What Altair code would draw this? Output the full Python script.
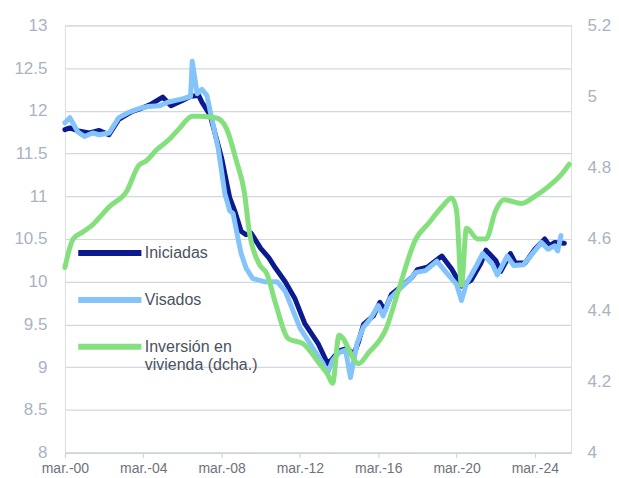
import altair as alt
import pandas as pd

# --- Data ---
ini_dates = ["2000-03","2000-06","2000-12","2001-06","2001-12","2002-06","2002-12","2003-08","2004-02","2004-08",
             "2005-03","2005-08","2006-03","2006-08","2007-01","2007-03","2007-08","2008-03","2008-08","2008-11",
             "2009-03","2009-06","2009-09","2010-03","2010-08","2010-12","2011-06","2011-12","2012-06","2013-02",
             "2013-08","2013-11","2014-03","2014-08","2014-12","2015-03","2015-06","2015-12","2016-04","2016-07",
             "2016-11","2017-08","2017-12","2018-03","2018-09","2019-06","2019-12","2020-03","2020-06","2020-12",
             "2021-06","2021-09","2022-03","2022-06","2022-12","2023-03","2023-09","2024-03","2024-09","2024-12",
             "2025-03","2025-09"]
ini_vals = [11.78,11.80,11.76,11.74,11.77,11.72,11.90,11.99,12.03,12.08,
            12.16,12.06,12.12,12.17,12.18,12.10,11.95,11.45,10.98,10.83,
            10.59,10.55,10.57,10.39,10.28,10.16,10.00,9.80,9.51,9.28,
            9.04,9.10,9.19,9.22,9.15,9.30,9.50,9.60,9.76,9.66,
            9.85,9.99,10.06,10.14,10.17,10.30,10.15,10.05,9.95,10.02,
            10.22,10.37,10.25,10.12,10.33,10.22,10.22,10.38,10.50,10.42,
            10.46,10.45]

vis_dates = ["2000-03","2000-06","2000-11","2001-03","2001-08","2001-12","2002-06","2002-12","2003-06","2004-01",
             "2004-06","2005-01","2005-06","2006-03","2006-08","2006-09","2006-12","2007-03","2007-06","2007-09",
             "2008-01","2008-05","2008-08","2008-10","2009-01","2009-03","2009-06","2009-10","2010-05","2011-01",
             "2011-06","2012-03","2012-12","2013-05","2013-08","2013-11","2014-03","2014-07","2014-10","2015-02",
             "2015-06","2015-10","2016-03","2016-06","2016-10","2017-06","2017-10","2018-02","2018-08","2019-03",
             "2019-09","2020-03","2020-06","2020-09","2021-03","2021-07","2022-01","2022-04","2022-10","2023-02",
             "2023-08","2024-02","2024-07","2024-11","2025-03","2025-05","2025-07"]
vis_vals = [11.86,11.92,11.75,11.70,11.74,11.72,11.74,11.92,11.98,12.03,
            12.05,12.06,12.10,12.14,12.17,12.58,12.20,12.25,12.18,11.91,
            11.55,11.03,10.83,10.80,10.51,10.33,10.16,10.04,10.00,10.00,
            9.89,9.46,9.19,9.05,8.93,9.08,9.17,9.20,8.88,9.28,
            9.47,9.56,9.72,9.60,9.80,9.95,10.02,10.11,10.13,10.24,
            10.10,9.97,9.78,9.98,10.18,10.33,10.20,10.08,10.30,10.19,
            10.20,10.34,10.46,10.38,10.42,10.36,10.54]

inv_dates = ["2000-03","2000-08","2001-02","2001-08","2002-02","2002-06","2003-05","2003-12","2004-05","2004-11",
             "2005-07","2006-01","2006-09","2007-01","2007-12","2008-06","2008-12","2009-05","2009-08","2010-02",
             "2010-07","2010-12","2011-08","2012-05","2013-03","2013-08","2013-11","2014-03","2015-03","2015-09",
             "2016-08","2017-03","2018-02","2018-10","2019-06","2019-12","2020-03","2020-06","2020-09","2021-04",
             "2021-09","2022-03","2022-08","2023-07","2024-03","2024-12","2025-07","2025-12"]
inv_vals = [4.52,4.60,4.62,4.64,4.67,4.69,4.735,4.805,4.82,4.85,
            4.88,4.91,4.945,4.945,4.94,4.91,4.82,4.73,4.62,4.53,
            4.50,4.42,4.32,4.306,4.25,4.22,4.195,4.33,4.25,4.28,
            4.35,4.45,4.60,4.645,4.69,4.715,4.68,4.47,4.63,4.60,
            4.60,4.68,4.71,4.70,4.72,4.75,4.78,4.81]

series_names = ["Iniciadas", "Visados", "Inversión en vivienda (dcha.)"]
series_colors = ["#0b1a8e", "#85c4fb", "#84e07c"]

left_ticks = [8, 8.5, 9, 9.5, 10, 10.5, 11, 11.5, 12, 12.5, 13]
right_ticks = [4, 4.2, 4.4, 4.6, 4.8, 5, 5.2]
x_tick_dates = ["2000-03-01","2004-03-01","2008-03-01","2012-03-01","2016-03-01","2020-03-01","2024-03-01"]

left_df = pd.concat([
    pd.DataFrame({"fecha": pd.to_datetime(ini_dates), "valor": ini_vals, "serie": series_names[0], "orden": 0}),
    pd.DataFrame({"fecha": pd.to_datetime(vis_dates), "valor": vis_vals, "serie": series_names[1], "orden": 1}),
])
right_df = pd.DataFrame({"fecha": pd.to_datetime(inv_dates), "valor": inv_vals, "serie": series_names[2], "orden": 2})

x_domain = [pd.Timestamp("2000-03-01").isoformat(), pd.Timestamp("2026-01-05").isoformat()]

color = alt.Color(
    "serie:N",
    scale=alt.Scale(domain=series_names, range=series_colors),
    legend=alt.Legend(
        title=None,
        orient="none",
        legendX=10,
        legendY=193,
        symbolType="stroke",
        symbolSize=4000,
        symbolStrokeWidth=6,
        rowPadding=-17,
        labelFontSize=16,
        labelFont="Liberation Sans",
        labelColor="#4a5263",
        labelOffset=0,
        labelLimit=300,
        labelBaseline="middle",
        labelExpr="datum.label == 'Inversión en vivienda (dcha.)' ? ['Inversión en', 'vivienda (dcha.)'] : datum.label",
    ),
)

x_enc = alt.X(
    "fecha:T",
    scale=alt.Scale(domain=x_domain),
    axis=alt.Axis(
        values=[pd.Timestamp(d).isoformat() for d in x_tick_dates],
        labelExpr="'mar.-' + timeFormat(datum.value, '%y')",
        title=None,
        grid=False,
        labelFlush=False,
        domainColor="#c9ced6",
        tickColor="#c9ced6",
        tickSize=5,
        labelColor="#6e737c",
        labelFontSize=14,
        labelFont="Liberation Sans",
        labelPadding=4,
    ),
)

left = alt.Chart(left_df).mark_line(strokeWidth=5, strokeJoin="round", strokeCap="round").encode(
    x=x_enc,
    y=alt.Y(
        "valor:Q",
        scale=alt.Scale(domain=[8, 13], nice=False, zero=False),
        axis=alt.Axis(
            values=left_ticks,
            format="~g",
            title=None,
            grid=True,
            gridColor="#d3d8e0",
            gridWidth=1.2,
            domain=False,
            ticks=False,
            labelColor="#a9b3c2",
            labelFontSize=17,
            labelFont="Liberation Sans",
            labelPadding=18,
        ),
    ),
    color=color,
    order="orden:Q",
)

right = alt.Chart(right_df).mark_line(strokeWidth=5, strokeJoin="round", strokeCap="round",
                                      interpolate="monotone").encode(
    x=x_enc,
    y=alt.Y(
        "valor:Q",
        scale=alt.Scale(domain=[4, 5.2], nice=False, zero=False),
        axis=alt.Axis(
            orient="right",
            values=right_ticks,
            format="~g",
            title=None,
            grid=False,
            domain=False,
            ticks=False,
            labelColor="#a9b3c2",
            labelFontSize=17,
            labelFont="Liberation Sans",
            labelPadding=16,
        ),
    ),
    color=color,
)

chart = alt.layer(left, right).resolve_scale(y="independent").properties(
    width=507,
    height=428,
    padding={"left": 5, "top": 8, "right": 0, "bottom": 0},
).configure_view(stroke=None).configure(background="white")

chart.save("out.html", embed_options={"renderer": "svg", "actions": False})
